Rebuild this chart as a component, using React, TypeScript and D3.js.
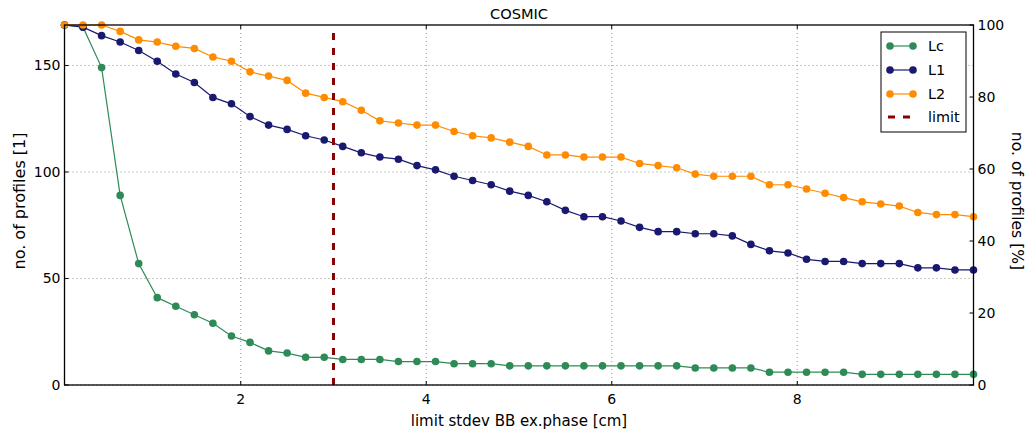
import React from "react";
import * as d3 from "d3";

// limit values of the stdev of BB excess phase [cm]
const limits = [
  0.1, 0.3, 0.5, 0.7, 0.9, 1.1, 1.3, 1.5, 1.7, 1.9,
  2.1, 2.3, 2.5, 2.7, 2.9, 3.1, 3.3, 3.5, 3.7, 3.9,
  4.1, 4.3, 4.5, 4.7, 4.9, 5.1, 5.3, 5.5, 5.7, 5.9,
  6.1, 6.3, 6.5, 6.7, 6.9, 7.1, 7.3, 7.5, 7.7, 7.9,
  8.1, 8.3, 8.5, 8.7, 8.9, 9.1, 9.3, 9.5, 9.7, 9.9,
];

// number of profiles passing each limit
const lc = [
  169, 168, 149, 89, 57, 41, 37, 33, 29, 23,
  20, 16, 15, 13, 13, 12, 12, 12, 11, 11,
  11, 10, 10, 10, 9, 9, 9, 9, 9, 9,
  9, 9, 9, 9, 8, 8, 8, 8, 6, 6,
  6, 6, 6, 5, 5, 5, 5, 5, 5, 5,
];
const l1 = [
  169, 168, 164, 161, 157, 152, 146, 142, 135, 132,
  126, 122, 120, 117, 115, 112, 109, 107, 106, 103,
  101, 98, 96, 94, 91, 89, 86, 82, 79, 79,
  77, 74, 72, 72, 71, 71, 70, 66, 63, 62,
  59, 58, 58, 57, 57, 57, 55, 55, 54, 54,
];
const l2 = [
  169, 169, 169, 166, 162, 161, 159, 158, 154, 152,
  147, 145, 143, 137, 135, 133, 129, 124, 123, 122,
  122, 119, 117, 116, 114, 112, 108, 108, 107, 107,
  107, 104, 103, 102, 99, 98, 98, 98, 94, 94,
  92, 90, 88, 86, 85, 84, 81, 80, 80, 79,
];

const totalProfiles = 169;
const limitValue = 3;

const xTicks = [2, 4, 6, 8];
const yTicksLeft = [0, 50, 100, 150];
const yTicksRight = [0, 20, 40, 60, 80, 100];

const seriesNames = ["Lc", "L1", "L2"];
const seriesColors = ["#2e8b57", "#191970", "#ff8c00"];
const limitColor = "#8b0000";

const W = 1027;
const H = 432;
const plot = { left: 64.5, right: 973.5, top: 25, bottom: 385 };
const font = "'DejaVu Sans', sans-serif";

export default function App() {
  const x = d3.scaleLinear().domain([0.1, 9.9]).range([plot.left, plot.right]);
  const y = d3.scaleLinear().domain([0, totalProfiles]).range([plot.bottom, plot.top]);
  const yPct = d3.scaleLinear().domain([0, 100]).range([plot.bottom, plot.top]);

  const series = [lc, l1, l2];
  const line = d3
    .line<number>()
    .x((_, i) => x(limits[i]))
    .y((d) => y(d));

  const legend = { x: 881, y: 32, w: 85, h: 100, rowH: 24 };
  const yLabelMid = 201;

  return (
    <svg
      width={W}
      height={H}
      style={{ position: "absolute", left: 0, top: 0, background: "#fff" }}
      fontFamily={font}
    >
      <rect x={0} y={0} width={W} height={H} fill="#fff" />

      {/* grid */}
      <g stroke="#777" strokeWidth={0.8} strokeDasharray="1,3">
        {xTicks.map((t) => (
          <line key={"gx" + t} x1={x(t)} x2={x(t)} y1={plot.top} y2={plot.bottom} />
        ))}
        {yTicksLeft.map((t) => (
          <line key={"gy" + t} x1={plot.left} x2={plot.right} y1={y(t)} y2={y(t)} />
        ))}
      </g>

      {/* series */}
      {series.map((s, k) => (
        <g key={seriesNames[k]}>
          <path d={line(s) ?? ""} fill="none" stroke={seriesColors[k]} strokeWidth={1.2} />
          {s.map((v, i) => (
            <circle key={i} cx={x(limits[i])} cy={y(v)} r={3.8} fill={seriesColors[k]} />
          ))}
        </g>
      ))}

      {/* limit line */}
      <line
        x1={x(limitValue)}
        x2={x(limitValue)}
        y1={plot.bottom}
        y2={plot.top}
        stroke={limitColor}
        strokeWidth={3}
        strokeDasharray="7,8"
      />

      {/* frame */}
      <rect
        x={plot.left}
        y={plot.top}
        width={plot.right - plot.left}
        height={plot.bottom - plot.top}
        fill="none"
        stroke="#000"
        strokeWidth={1.3}
      />

      {/* ticks */}
      <g stroke="#000" strokeWidth={1}>
        {xTicks.map((t) => (
          <g key={"xt" + t}>
            <line x1={x(t)} x2={x(t)} y1={plot.bottom} y2={plot.bottom - 4} />
            <line x1={x(t)} x2={x(t)} y1={plot.top} y2={plot.top + 4} />
          </g>
        ))}
        {yTicksLeft.map((t) => (
          <line key={"ylt" + t} x1={plot.left} x2={plot.left + 4} y1={y(t)} y2={y(t)} />
        ))}
        {yTicksRight.map((t) => (
          <line key={"yrt" + t} x1={plot.right} x2={plot.right - 4} y1={yPct(t)} y2={yPct(t)} />
        ))}
      </g>

      <g fontSize={14} fill="#000">
        {xTicks.map((t) => (
          <text key={"xl" + t} x={x(t)} y={plot.bottom + 19} textAnchor="middle">
            {t}
          </text>
        ))}
        {yTicksLeft.map((t) => (
          <text key={"yl" + t} x={plot.left - 4} y={y(t) + 5} textAnchor="end">
            {t}
          </text>
        ))}
        {yTicksRight.map((t) => (
          <text key={"yr" + t} x={plot.right + 4} y={yPct(t) + 5} textAnchor="start">
            {t}
          </text>
        ))}
        <text x={(plot.left + plot.right) / 2} y={426} textAnchor="middle" fontSize={15}>
          limit stdev BB ex.phase [cm]
        </text>
        <text
          transform={`translate(24.5,${yLabelMid}) rotate(-90)`}
          textAnchor="middle"
          fontSize={16}
        >
          no. of profiles [1]
        </text>
        <text
          transform={`translate(1011.5,${yLabelMid}) rotate(90)`}
          textAnchor="middle"
          fontSize={15.6}
        >
          no. of profiles [%]
        </text>
        <text x={(plot.left + plot.right) / 2} y={19} textAnchor="middle" fontSize={14.6}>
          COSMIC
        </text>
      </g>

      {/* legend */}
      <g>
        <rect
          x={legend.x}
          y={legend.y}
          width={legend.w}
          height={legend.h}
          fill="#fff"
          stroke="#000"
          strokeWidth={1}
        />
        {seriesNames.map((n, k) => {
          const ly = legend.y + 14 + k * legend.rowH;
          return (
            <g key={"lg" + n}>
              <line x1={890} x2={913} y1={ly} y2={ly} stroke={seriesColors[k]} strokeWidth={1.2} />
              <circle cx={890} cy={ly} r={3.8} fill={seriesColors[k]} />
              <circle cx={913} cy={ly} r={3.8} fill={seriesColors[k]} />
              <text x={928} y={ly + 5} fontSize={14.4}>
                {n}
              </text>
            </g>
          );
        })}
        <line
          x1={888}
          x2={915}
          y1={legend.y + 14 + 3 * legend.rowH - 1}
          y2={legend.y + 14 + 3 * legend.rowH - 1}
          stroke={limitColor}
          strokeWidth={3}
          strokeDasharray="7,8"
        />
        <text x={928} y={legend.y + 14 + 3 * legend.rowH + 4} fontSize={14.4}>
          limit
        </text>
      </g>
    </svg>
  );
}
